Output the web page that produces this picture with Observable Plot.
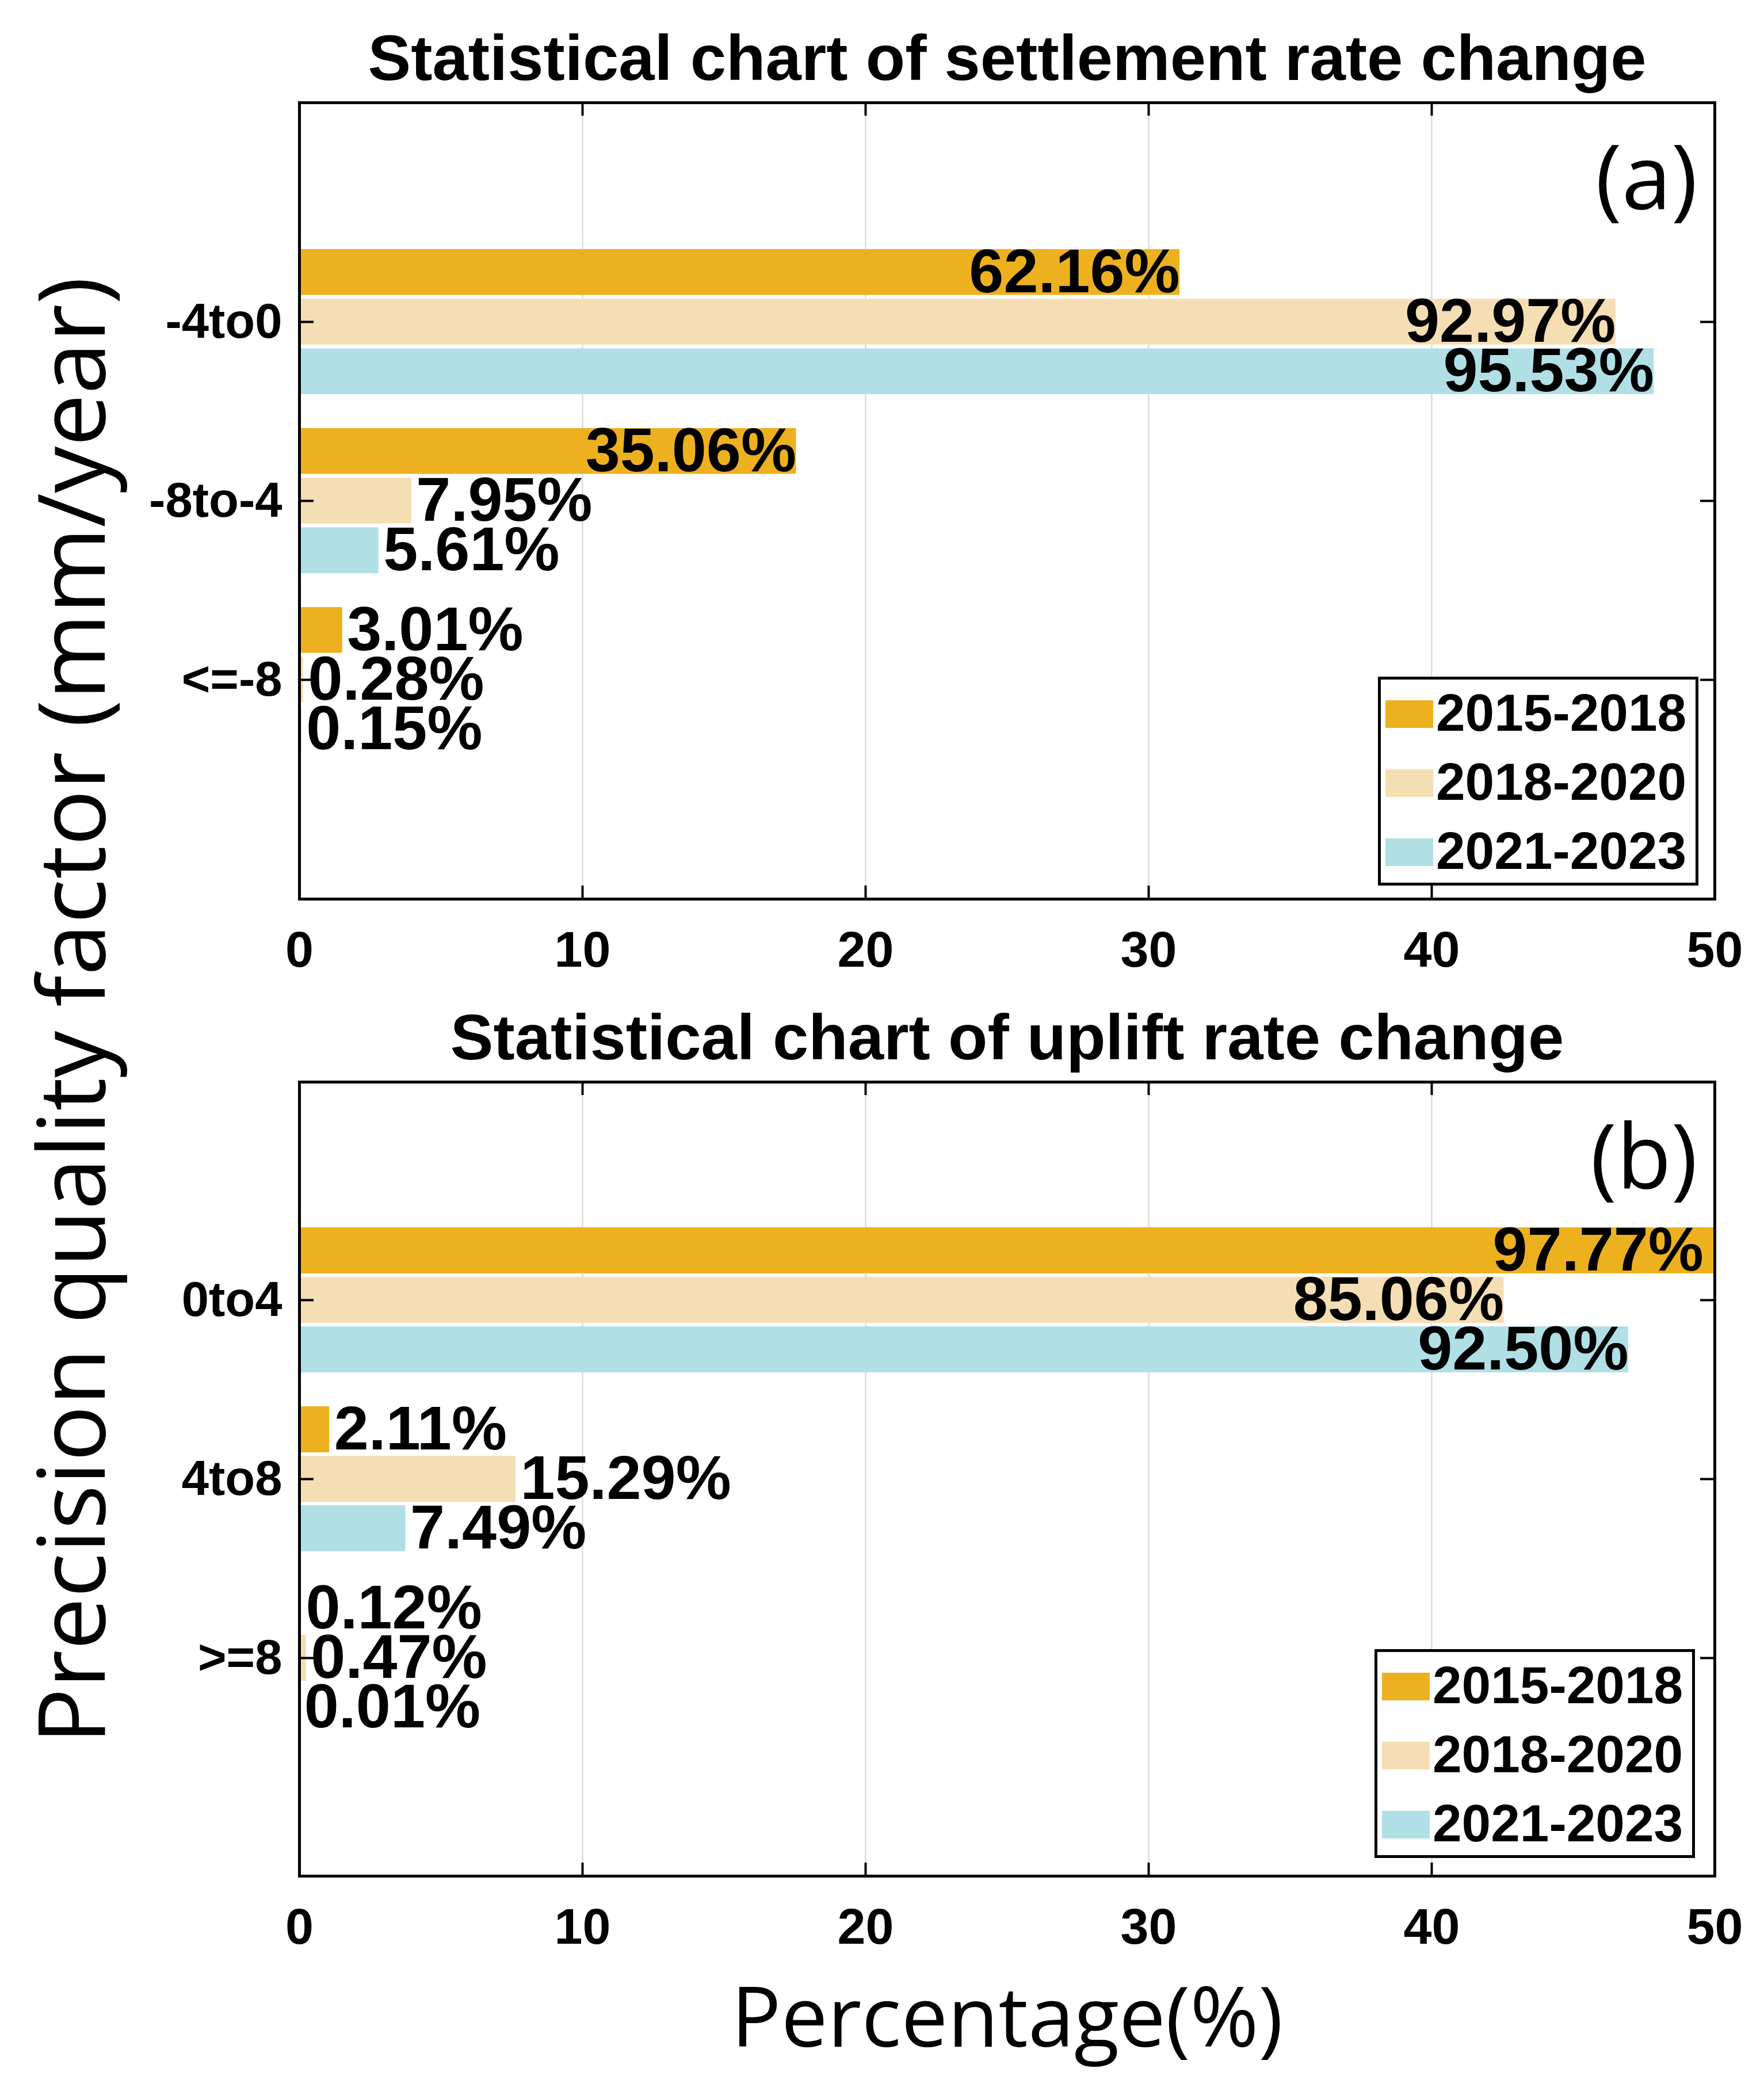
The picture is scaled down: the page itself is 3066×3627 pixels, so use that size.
<!DOCTYPE html>
<html>
<head>
<meta charset="utf-8">
<script src="https://cdn.jsdelivr.net/npm/d3@7"></script>
<script src="https://cdn.jsdelivr.net/npm/@observablehq/plot@0.6"></script>
<style>
  html, body { margin: 0; padding: 0; background: #fff; }
  #page { position: relative; width: 3066px; height: 3627px; overflow: hidden; background: #fff; }
  .panel { position: absolute; left: 0; }
  .legend { position: absolute; box-sizing: border-box; border: 5px solid #000; background: #fff;
            font-family: "Liberation Sans", Arial, sans-serif; font-weight: bold; }
  .legend .sw { position: absolute; left: 8px; width: 83px; height: 48px; }
  .legend .lb { position: absolute; left: 96px; font-size: 91px; line-height: 1; color: #000;
                white-space: nowrap; }
</style>
</head>
<body>
<div id="page"></div>
<script>
// ---------------- data ----------------
const periods = ["2015-2018", "2018-2020", "2021-2023"];
const periodColors = ["#EDB120", "#F5DEB3", "#B0E0E6"];
const xTicks = [0, 10, 20, 30, 40, 50];

// (a) settlement rate change
const settleCategories = ["-4to0", "-8to-4", "<=-8"];
const settleBar2015_2018 = [31.1, 17.55, 1.52];
const settleBar2018_2020 = [46.5, 3.96, 0.14];
const settleBar2021_2023 = [47.85, 2.8, 0.075];
const settleText2015_2018 = ["62.16%", "35.06%", "3.01%"];
const settleText2018_2020 = ["92.97%", "7.95%", "0.28%"];
const settleText2021_2023 = ["95.53%", "5.61%", "0.15%"];

// (b) uplift rate change
const upliftCategories = ["0to4", "4to8", ">=8"];
const upliftBar2015_2018 = [50, 1.06, 0.06];
const upliftBar2018_2020 = [42.55, 7.64, 0.24];
const upliftBar2021_2023 = [46.95, 3.75, 0.005];
const upliftText2015_2018 = ["97.77%", "2.11%", "0.12%"];
const upliftText2018_2020 = ["85.06%", "15.29%", "0.47%"];
const upliftText2021_2023 = ["92.50%", "7.49%", "0.01%"];

const titleA = "Statistical chart of settlement rate change";
const titleB = "Statistical chart of uplift rate change";
const yTitle = "Precision quality factor (mm/year)";
const xTitle = "Percentage(%)";

// ---------------- layout ----------------
const W = 3066;
const ML = 520, MR = W - 2980;
const PI = 0.19, PO = 0.813;
const BOLD = "'Liberation Sans', Arial, Helvetica, sans-serif";
const HUMAN = "'Open Sans', 'Noto Sans', sans-serif";

function rowsFor(cats, bars, texts) {
  return cats.flatMap((c, i) => periods.map((p, j) => ({
    category: c, period: p, pj: j, len: bars[j][i], text: texts[j][i]
  })));
}

function panel({cats, bars, texts, title, tag, top, height, marginTop, marginBottom, xLabel}) {
  const rows = rowsFor(cats, bars, texts);
  const y0 = marginTop, y1 = height - marginBottom;
  const Hf = y1 - y0, Wf = W - ML - MR;
  const bw = d3.scaleBand().domain(cats).range([y0, y1])
    .paddingInner(PI).paddingOuter(PO).align(0.5).bandwidth();
  const gap = 6, sub = (bw + gap) / 3, barH = sub - gap;

  const marks = [
    Plot.ruleX([10, 20, 30, 40], {stroke: "#dcdcdc", strokeWidth: 2.5})
  ];
  periods.forEach((p, j) => {
    const data = rows.filter(r => r.pj === j);
    const insetTop = j * sub, insetBottom = bw - j * sub - barH;
    const dy = j * sub + barH / 2 - bw / 2;
    marks.push(Plot.barX(data, {x1: 0, x2: "len", y: "category", fill: periodColors[j],
      insetTop, insetBottom}));
    marks.push(Plot.text(data.filter(d => d.len >= 10), {
      x: d => Math.min(d.len, 49.6), y: "category", text: "text", textAnchor: "end",
      dy, fontSize: 108, fontWeight: "bold", fontFamily: BOLD, fill: "#000"}));
    marks.push(Plot.text(data.filter(d => d.len < 10), {
      x: "len", y: "category", text: "text", textAnchor: "start",
      dx: 8, dy, fontSize: 108, fontWeight: "bold", fontFamily: BOLD, fill: "#000"}));
  });
  marks.push(
    Plot.frame({stroke: "#000", strokeWidth: 5}),
    // inward tick marks (bottom, top, left, right)
    Plot.ruleX([10, 20, 30, 40], {insetTop: Hf - 23, stroke: "#000", strokeWidth: 4}),
    Plot.ruleX([10, 20, 30, 40], {insetBottom: Hf - 23, stroke: "#000", strokeWidth: 4}),
    Plot.ruleY(cats, {y: d => d, insetRight: Wf - 25, stroke: "#000", strokeWidth: 4}),
    Plot.ruleY(cats, {y: d => d, insetLeft: Wf - 25, stroke: "#000", strokeWidth: 4}),
    Plot.axisX(xTicks, {tickSize: 0, tickPadding: 55, label: null, fontSize: 88, fontWeight: "bold"}),
    Plot.axisY({tickSize: 0, tickPadding: 30, label: null, fontSize: 85, fontWeight: "bold"}),
    Plot.text([title], {frameAnchor: "top", dy: -40, lineAnchor: "bottom", fontSize: 112,
      fontWeight: "bold", fontFamily: BOLD, fill: "#000"}),
    Plot.text([tag], {frameAnchor: "top-right", dx: -30, dy: 184, lineAnchor: "bottom",
      textAnchor: "end", fontSize: 155, fontWeight: "normal", fontFamily: HUMAN, fill: "#000"})
  );
  if (xLabel) {
    marks.push(Plot.text([xLabel], {frameAnchor: "bottom", dy: 296, lineAnchor: "bottom",
      fontSize: 144, fontWeight: "normal", fontFamily: HUMAN, fill: "#000"}));
  }

  const svg = Plot.plot({
    width: W, height, marginLeft: ML, marginRight: MR, marginTop, marginBottom,
    style: {background: "transparent", fontFamily: BOLD, fontSize: "88px", fontWeight: "bold",
            color: "#000", overflow: "visible", maxWidth: "none"},
    x: {domain: [0, 50]},
    y: {type: "band", domain: cats, paddingInner: PI, paddingOuter: PO, align: 0.5},
    marks
  });
  svg.classList.add("panel");
  svg.style.top = top + "px";
  return svg;
}

const page = document.getElementById("page");

page.appendChild(panel({
  cats: settleCategories,
  bars: [settleBar2015_2018, settleBar2018_2020, settleBar2021_2023],
  texts: [settleText2015_2018, settleText2018_2020, settleText2021_2023],
  title: titleA, tag: "(a)", top: 0, height: 1720, marginTop: 178, marginBottom: 158
}));

page.appendChild(panel({
  cats: upliftCategories,
  bars: [upliftBar2015_2018, upliftBar2018_2020, upliftBar2021_2023],
  texts: [upliftText2015_2018, upliftText2018_2020, upliftText2021_2023],
  title: titleB, tag: "(b)", top: 1720, height: 1907, marginTop: 160, marginBottom: 367,
  xLabel: xTitle
}));

// shared y-axis title
const ov = d3.select(page).append("svg")
  .attr("width", 300).attr("height", 3627)
  .style("position", "absolute").style("left", "0px").style("top", "0px");
ov.append("text")
  .attr("transform", "translate(182,1756) rotate(-90)")
  .attr("text-anchor", "middle")
  .attr("font-family", HUMAN).attr("font-size", 162)
  .attr("fill", "#000")
  .text(yTitle);

// legends
function legend(left, top) {
  const box = d3.select(page).append("div").attr("class", "legend")
    .style("left", left + "px").style("top", top + "px")
    .style("width", "557px").style("height", "363px");
  const rowY = [65, 185, 305];
  periods.forEach((p, j) => {
    box.append("div").attr("class", "sw")
      .style("top", (rowY[j] - 5 - 24) + "px").style("background", periodColors[j]);
    box.append("div").attr("class", "lb")
      .style("top", (rowY[j] - 5 - 48) + "px").text(p);
  });
}
legend(2395, 1176);
legend(2389, 2866);
</script>
</body>
</html>
